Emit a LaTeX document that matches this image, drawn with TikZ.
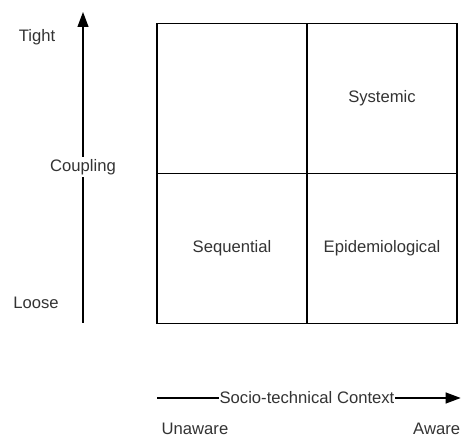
\documentclass[tikz,border=0pt]{standalone}
\usepackage{fontspec}
\setmainfont{Liberation Sans}
\usetikzlibrary{arrows.meta,positioning}
\tikzset{
  cell/.style={draw, line width=1.3pt, outer sep=0pt, inner sep=0pt,
    minimum width=4.5cm, minimum height=4.5cm, text=black!80,
    font=\fontsize{14.2}{17}\selectfont},
  lbl/.style={text=black!80, font=\fontsize{14.2}{17}\selectfont},
  axis/.style={line width=1pt, -{Triangle[length=4.5mm,width=3.3mm]}},
}
\begin{document}
\begin{tikzpicture}
  \useasboundingbox (0,0) rectangle (13.83,13.17);
  % the four quadrants:
  \node[cell] (open) at (6.96,10.215) {};
  \node[cell, right=0pt of open] (systemic) {Systemic};
  \node[cell, below=0pt of open] (sequential) {Sequential};
  \node[cell, right=0pt of sequential] (epidemic) {Epidemiological};
  % coupling axis:
  \coordinate (loose end) at (2.49,3.48);
  \coordinate (tight end) at (2.49,12.81);
  \draw[axis] (loose end) -- (tight end);
  \node[lbl, fill=white, inner sep=2pt] (coupling) at (2.49,8.16) {Coupling};
  \node[lbl] (tight) at (1.11,12.06) {Tight};
  \node[lbl] (loose) at (1.08,4.08) {Loose};
  % context axis:
  \coordinate (unaware end) at (4.71,1.23);
  \coordinate (aware end) at (13.82,1.23);
  \draw[axis] (unaware end) -- (aware end);
  \node[lbl, fill=white, inner sep=0.5pt] (context) at (9.21,1.23) {Socio-technical Context};
  \node[lbl, inner sep=0pt, anchor=base] (unaware) at (5.85,0.12) {Unaware};
  \node[lbl, inner sep=0pt, anchor=base] (aware) at (13.1,0.12) {Aware};
\end{tikzpicture}
\end{document}
